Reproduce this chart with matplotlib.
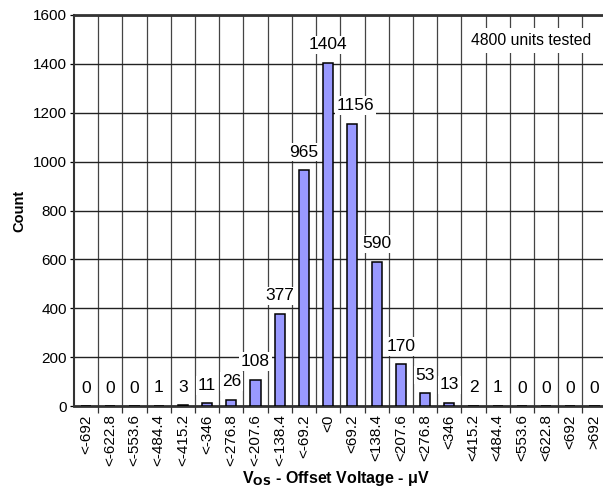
import matplotlib
matplotlib.use("Agg")
import matplotlib.pyplot as plt
import numpy as np

categories = ["<-692", "<-622.8", "<-553.6", "<-484.4", "<-415.2", "<-346",
              "<-276.8", "<-207.6", "<-138.4", "<-69.2", "<0", "<69.2",
              "<138.4", "<207.6", "<276.8", "<346", "<415.2", "<484.4",
              "<553.6", "<622.8", "<692", ">692"]
counts = [0, 0, 0, 1, 3, 11, 26, 108, 377, 965, 1404, 1156, 590, 170, 53,
          13, 2, 1, 0, 0, 0, 0]
y_ticks = [0, 200, 400, 600, 800, 1000, 1200, 1400, 1600]

plt.rcParams['font.family'] = ['Liberation Sans', 'DejaVu Sans']

fig = plt.figure(figsize=(6.03, 4.91), dpi=100)
ax = fig.add_axes([74/603, 85/491, 532.6/603, 391/491])

x = np.arange(len(categories))
ax.bar(x, counts, width=0.42, color="#9999ff", edgecolor="black",
       linewidth=1.1, zorder=5)

ax.set_xlim(-0.5, len(categories) - 0.5)
ax.set_ylim(0, 1600)
ax.set_yticks(y_ticks)
ax.set_yticklabels([str(v) for v in y_ticks], fontsize=11)

ax.set_xticks(x)
ax.set_xticklabels(categories, rotation=90, fontsize=11)
ax.tick_params(axis='x', which='major', length=0, pad=6)
ax.set_xticks(np.arange(len(categories) - 1) + 0.5, minor=True)
ax.tick_params(axis='x', which='minor', length=5, width=0.9, color='#333333')
ax.tick_params(axis='y', length=3, width=0.9, pad=2)

ax.grid(axis='y', color='#222222', linewidth=1.0, zorder=1)
ax.grid(axis='x', which='minor', color='#444444', linewidth=0.9, zorder=1)
ax.set_axisbelow(True)

for side in ['top', 'bottom']:
    ax.spines[side].set_linewidth(2.0)
    ax.spines[side].set_color('#333333')
ax.spines['left'].set_linewidth(1.5)
ax.spines['left'].set_color('#333333')
ax.spines['right'].set_visible(False)

peak = int(np.argmax(counts))
for xi, c in zip(x, counts):
    dx = 2.5 if xi == peak + 1 else 0
    ax.annotate(str(c), xy=(xi, c), xytext=(dx, 7.5), textcoords='offset points',
                ha='center', va='bottom', fontsize=12.5, zorder=4,
                bbox=dict(boxstyle='square,pad=0.1', fc='white', ec='none'))

ax.text(0.972, 0.935, "4800 units tested", transform=ax.transAxes,
        ha='right', va='center', fontsize=11.3, zorder=4,
        bbox=dict(boxstyle='square,pad=0.3', fc='white', ec='none'))

ax.set_ylabel("Count", fontsize=10.5, fontweight='bold', labelpad=5)
fig.text(336/603, 1 - 479/491, r"V$_{\mathbf{OS}}$ - Offset Voltage - μV",
         ha='center', va='center', fontsize=11.5, fontweight='bold')

fig.savefig("out.png", dpi=100)
